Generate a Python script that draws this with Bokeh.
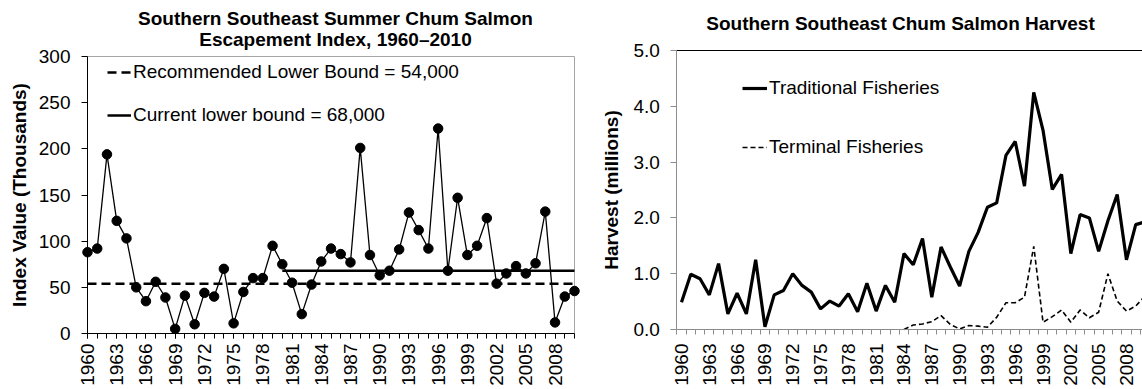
import math
from bokeh.plotting import figure
from bokeh.layouts import row
from bokeh.models import (FixedTicker, Legend, LegendItem, Label,
                          NumeralTickFormatter, Range1d, LinearAxis)
from bokeh.embed import file_html
from bokeh.resources import INLINE

# ---------------- data ----------------
years = list(range(1960, 2011))
escapement_index = [88, 92, 194, 122, 103, 50, 35, 56, 39, 5,
                    41, 10, 44, 40, 70, 11, 45, 60, 60, 95,
                    75, 55, 21, 53, 78, 92, 86, 77, 201, 85,
                    63, 68, 91, 131, 112, 92, 222, 68, 147, 85,
                    95, 125, 54, 65, 73, 65, 76, 132, 12, 40,
                    46]
recommended_bound = 54
current_bound = 68
current_bound_start = 1980

traditional = [0.49, 0.99, 0.91, 0.62, 1.18, 0.28, 0.65, 0.28, 1.25, 0.05,
               0.62, 0.70, 1.00, 0.79, 0.67, 0.37, 0.51, 0.42, 0.64, 0.32,
               0.83, 0.33, 0.79, 0.49, 1.36, 1.16, 1.63, 0.58, 1.48, 1.12,
               0.78, 1.40, 1.74, 2.19, 2.27, 3.12, 3.37, 2.57, 4.25, 3.57,
               2.51, 2.78, 1.36, 2.06, 2.00, 1.40, 1.95, 2.42, 1.25, 1.88,
               1.93]
terminal_years = list(range(1984, 2011))
terminal = [0.00, 0.08, 0.10, 0.14, 0.25, 0.09, 0.01, 0.07, 0.06, 0.04,
            0.22, 0.48, 0.48, 0.58, 1.49, 0.13, 0.23, 0.35, 0.13, 0.35,
            0.21, 0.31, 1.00, 0.51, 0.33, 0.42, 0.60]

label_years = years[::3]
left_yticks = [0, 50, 100, 150, 200, 250, 300]
right_yticks = [0, 1, 2, 3, 4, 5]

left_title = ["Southern Southeast Summer Chum Salmon", "Escapement Index, 1960\u20132010"]
right_title = "Southern Southeast Chum Salmon Harvest"

# ---------------- layout constants (pixels, page coordinates) ----------------
H = 389
LW, RW = 600, 542
# left plot area
L_X0PX, L_X1PX = 87, 574          # first / last year
L_Y0PX, L_Y1PX = 333, 56          # 0 / 300
# right plot area
R_X0PX, R_YEARPX = 681, 9.27      # first year centre, px per year
R_Y0PX, R_Y1PX = 329, 50          # 0.0 / 5.0
L_TITLE_X, L_TITLE_Y = 335, (17.5, 38.5)
R_TITLE_X, R_TITLE_Y = 900, 22.5

FONT = "Liberation Sans"
FS = "19px"
GREY = "#8c8c8c"
LIGHT = "#a6a6a6"

# ---------------- pixel <-> data helpers ----------------
l_xs = (L_X1PX - L_X0PX) / (years[-1] - years[0])
l_ys = (L_Y0PX - L_Y1PX) / (left_yticks[-1] - left_yticks[0])
lx = lambda px: years[0] + (px - L_X0PX) / l_xs
ly = lambda py: left_yticks[0] + (L_Y0PX - py) / l_ys
r_ys = (R_Y0PX - R_Y1PX) / (right_yticks[-1] - right_yticks[0])
rx = lambda px: years[0] + (px - R_X0PX) / R_YEARPX
ry = lambda py: right_yticks[0] + (R_Y0PX - py) / r_ys


def style_axis(ax, color):
    ax.axis_line_color = color
    ax.major_tick_line_color = color
    ax.minor_tick_line_color = color
    ax.major_label_text_font = FONT
    ax.major_label_text_font_size = FS
    ax.major_label_text_color = "black"
    ax.axis_label_text_font = FONT
    ax.axis_label_text_font_size = FS
    ax.axis_label_text_font_style = "bold"
    ax.axis_label_text_color = "black"


def border_axis(p, side, loc, bounds, color):
    ax = LinearAxis(ticker=FixedTicker(ticks=[], minor_ticks=[]),
                    fixed_location=loc, bounds=bounds, axis_line_color=color,
                    axis_line_width=1, major_tick_out=0, minor_tick_out=0,
                    level="underlay")
    p.add_layout(ax, side)


def title_label(p, x, y, text):
    p.add_layout(Label(x=x, y=y, text=text, text_align="center",
                       text_baseline="middle", text_font=FONT,
                       text_font_size=FS, text_font_style="bold",
                       text_color="black"))


# ---------------- left panel ----------------
left = figure(width=LW, height=H, x_range=Range1d(lx(0), lx(LW)),
              y_range=Range1d(ly(H), ly(0)), output_backend="svg",
              toolbar_location=None, min_border=0)
left.outline_line_color = None
left.xgrid.visible = False
left.ygrid.visible = False

xa = left.xaxis[0]
style_axis(xa, "black")
xa.fixed_location = left_yticks[0]
xa.bounds = (years[0], years[-1])
xa.ticker = FixedTicker(ticks=label_years, minor_ticks=years)
xa.major_label_orientation = math.pi / 2
xa.major_tick_out = 5
xa.major_tick_in = 0
xa.minor_tick_out = 5
xa.minor_tick_in = 0
xa.major_label_standoff = 5

ya = left.yaxis[0]
style_axis(ya, "black")
ya.fixed_location = years[0]
ya.bounds = (left_yticks[0], left_yticks[-1])
ya.ticker = FixedTicker(ticks=left_yticks, minor_ticks=[])
ya.major_tick_out = 6
ya.major_tick_in = 0
ya.major_label_standoff = 11
ya.axis_label = "Index Value (Thousands)"
ya.axis_label_standoff = 6

border_axis(left, "above", left_yticks[-1], (years[0], years[-1]), LIGHT)
border_axis(left, "right", years[-1], (left_yticks[0], left_yticks[-1]), LIGHT)

for text, ty in zip(left_title, L_TITLE_Y):
    title_label(left, lx(L_TITLE_X), ly(ty), text)

rec = left.line(x=[years[0], years[-1]], y=[recommended_bound] * 2,
                line_color="black", line_width=2.5, line_dash="9 5")
cur = left.line(x=[current_bound_start, years[-1]], y=[current_bound] * 2,
                line_color="black", line_width=2.5)
left.line(years, escapement_index, line_color="black", line_width=1.3)
left.scatter(years, escapement_index, size=9.5, fill_color="black",
             line_color="black")

leg_l = Legend(items=[
    LegendItem(label="Recommended Lower Bound = 54,000", renderers=[rec]),
    LegendItem(label="Current lower bound = 68,000", renderers=[cur])],
    location=(107, 263), glyph_width=24, glyph_height=20, label_height=20,
    label_standoff=2, spacing=21, padding=0, margin=0,
    border_line_color=None, background_fill_alpha=0,
    label_text_font=FONT, label_text_font_size=FS, label_text_color="black")
left.add_layout(leg_l)

# ---------------- right panel ----------------
right = figure(width=RW, height=H, x_range=Range1d(rx(LW), rx(LW + RW)),
               y_range=Range1d(ry(H), ry(0)), output_backend="svg",
               toolbar_location=None, min_border=0)
right.outline_line_color = None
right.xgrid.visible = False
right.ygrid.visible = False

r_first, r_last = years[0] - 0.5, years[-1] + 0.5

xb = right.xaxis[0]
style_axis(xb, GREY)
xb.fixed_location = right_yticks[0]
xb.bounds = (r_first, r_last)
xb.ticker = FixedTicker(ticks=label_years,
                        minor_ticks=[y - 0.5 for y in years] + [r_last])
xb.major_label_orientation = math.pi / 2
xb.major_tick_out = 0
xb.major_tick_in = 0
xb.minor_tick_out = 5
xb.minor_tick_in = 0
xb.major_label_standoff = 9

yb = right.yaxis[0]
style_axis(yb, GREY)
yb.fixed_location = r_first
yb.bounds = (right_yticks[0], right_yticks[-1])
yb.ticker = FixedTicker(ticks=right_yticks, minor_ticks=[])
yb.formatter = NumeralTickFormatter(format="0.0")
yb.major_tick_out = 6
yb.major_tick_in = 0
yb.major_label_standoff = 11
yb.axis_label = "Harvest (millions)"
yb.axis_label_standoff = 8

border_axis(right, "above", right_yticks[-1], (r_first, r_last), "black")

title_label(right, rx(R_TITLE_X), ry(R_TITLE_Y), right_title)

trad = right.line(years, traditional, line_color="black", line_width=3.2)
term = right.line(terminal_years, terminal, line_color="black",
                  line_width=1.6, line_dash="5 3")

leg_r = Legend(items=[
    LegendItem(label="Traditional Fisheries", renderers=[trad]),
    LegendItem(label="Terminal Fisheries", renderers=[term])],
    location=(142, 231), glyph_width=25, glyph_height=20, label_height=20,
    label_standoff=2, spacing=37, padding=0, margin=0,
    border_line_color=None, background_fill_alpha=0,
    label_text_font=FONT, label_text_font_size=FS, label_text_color="black")
right.add_layout(leg_r)

layout = row(left, right)
open("out.html", "w").write(file_html(layout, INLINE))
